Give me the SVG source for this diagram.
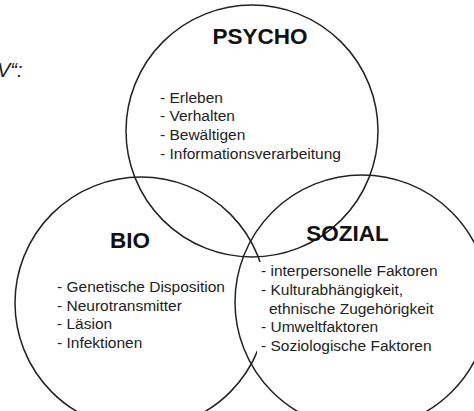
<svg xmlns="http://www.w3.org/2000/svg" width="474" height="411" viewBox="0 0 474 411">
  <style>
    .circle { fill: none; stroke: #222; stroke-width: 1.5; }
    .head { font-family: "Liberation Sans", Arial, sans-serif; font-weight: bold; font-size: 22.5px; fill: #111; text-anchor: middle; }
    .item { font-family: "Liberation Sans", Arial, sans-serif; font-size: 15.5px; fill: #222; }
    .frag { font-family: "Liberation Sans", Arial, sans-serif; font-style: italic; font-size: 20px; fill: #222; }
  </style>
  <rect width="474" height="411" fill="#fff"/>
  <text class="frag" x="-3" y="77">V“:</text>
  <g id="connectors"/>
  <g id="psycho">
    <circle class="circle" cx="252" cy="131" r="126"/>
    <text class="head" x="260" y="43.5">PSYCHO</text>
    <text class="item" x="160" y="102.5">- Erleben</text>
    <text class="item" x="160" y="121.2">- Verhalten</text>
    <text class="item" x="160" y="139.9">- Bewältigen</text>
    <text class="item" x="160" y="158.6">- Informationsverarbeitung</text>
  </g>
  <g id="bio">
    <circle class="circle" cx="141" cy="303" r="126"/>
    <text class="head" x="130" y="248">BIO</text>
    <text class="item" x="57" y="292">- Genetische Disposition</text>
    <text class="item" x="57" y="310.7">- Neurotransmitter</text>
    <text class="item" x="57" y="329.4">- Läsion</text>
    <text class="item" x="57" y="348">- Infektionen</text>
  </g>
  <g id="sozial">
    <circle class="circle" cx="362" cy="302" r="127"/>
    <text class="head" x="347.5" y="241">SOZIAL</text>
    <rect x="257" y="262" width="185" height="94" fill="#fff"/>
    <text class="item" x="261" y="276">- interpersonelle Faktoren</text>
    <text class="item" x="261" y="295.3">- Kulturabhängigkeit,</text>
    <text class="item" x="269" y="313.7">ethnische Zugehörigkeit</text>
    <text class="item" x="261" y="332.4">- Umweltfaktoren</text>
    <text class="item" x="261" y="351">- Soziologische Faktoren</text>
  </g>
</svg>
